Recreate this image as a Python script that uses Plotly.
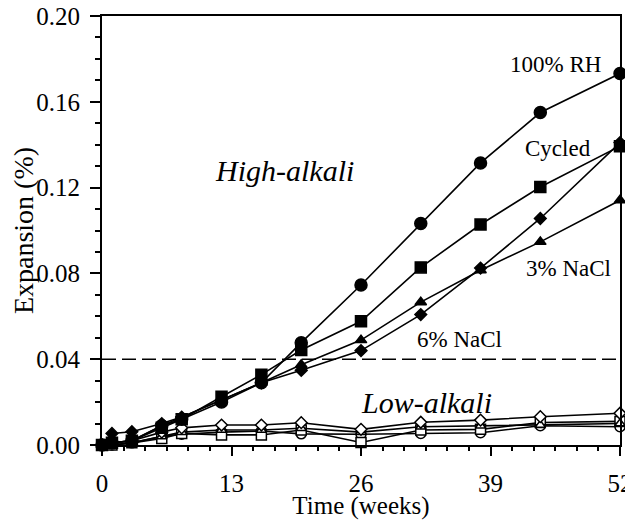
import plotly.graph_objects as go

weeks = [0, 1, 3, 6, 8, 12, 16, 20, 26, 32, 38, 44, 52]

# High-alkali series (filled markers)
rh100_high = [0.000, 0.001, 0.002, 0.009, 0.012, 0.020, 0.029, 0.0477, 0.0746, 0.1033, 0.1315, 0.155, 0.1732]
cycled_high = [0.000, 0.001, 0.002, 0.008, 0.012, 0.0225, 0.0328, 0.0443, 0.0577, 0.0828, 0.1028, 0.1203, 0.1393]
nacl3_high = [0.000, 0.001, 0.002, 0.009, 0.013, 0.021, 0.029, 0.0374, 0.0489, 0.0666, 0.0815, 0.0947, 0.1141]
nacl6_high = [0.000, 0.0054, 0.0062, 0.010, 0.013, 0.021, 0.029, 0.0348, 0.0440, 0.0608, 0.0825, 0.1056, 0.1410]

# Low-alkali series (open markers)
rh100_low = [0.000, 0.000, 0.001, 0.004, 0.005, 0.006, 0.0065, 0.0052, 0.0050, 0.0054, 0.0057, 0.0090, 0.0085]
cycled_low = [0.000, 0.000, 0.001, 0.003, 0.0054, 0.0047, 0.0047, 0.0070, 0.0012, 0.0070, 0.0073, 0.0105, 0.0110]
nacl3_low = [0.000, 0.000, 0.001, 0.004, 0.006, 0.007, 0.007, 0.0078, 0.0060, 0.0085, 0.0090, 0.0093, 0.0100]
nacl6_low = [0.000, 0.001, 0.002, 0.006, 0.008, 0.0093, 0.0093, 0.0104, 0.0073, 0.0106, 0.0116, 0.0132, 0.0148]

threshold = 0.04

x_tick_vals = [0, 13, 26, 39, 52]
y_tick_vals = [0.00, 0.04, 0.08, 0.12, 0.16, 0.20]

FONT = "Times New Roman, Liberation Serif, serif"

fig = go.Figure()

def add(y, symbol, size, fill):
    fig.add_trace(go.Scatter(
        x=weeks, y=y, mode="lines+markers",
        line=dict(color="black", width=1.6),
        marker=dict(symbol=symbol, size=size, color=fill,
                    line=dict(color="black", width=1.5)),
        cliponaxis=False, showlegend=False, hoverinfo="skip"))

add(rh100_low, "circle", 10, "white")
add(cycled_low, "square", 10, "white")
add(nacl3_low, "triangle-up", 9, "white")
add(nacl6_low, "diamond", 9, "white")

add(rh100_high, "circle", 12, "black")
add(cycled_high, "square", 11, "black")
add(nacl3_high, "triangle-up", 10, "black")
add(nacl6_high, "diamond", 9, "black")

fig.add_hline(y=threshold, line=dict(color="black", width=1.6, dash="14px,6px"))

ann_font = dict(family=FONT, size=23, color="black")
fig.add_annotation(x=45.5, y=0.1775, text="100% RH", showarrow=False, font=ann_font)
fig.add_annotation(x=45.8, y=0.138, text="Cycled", showarrow=False, font=ann_font)
fig.add_annotation(x=46.8, y=0.0825, text="3% NaCl", showarrow=False, font=ann_font)
fig.add_annotation(x=35.9, y=0.049, text="6% NaCl", showarrow=False, font=ann_font)
fig.add_annotation(x=18.3, y=0.128, text="<i>High-alkali</i>", showarrow=False,
                   font=dict(family=FONT, size=30, color="black"))
fig.add_annotation(x=32.6, y=0.0200, text="<i>Low-alkali</i>", showarrow=False,
                   font=dict(family=FONT, size=30, color="black"))

# page body has an 8px margin; size/margins compensate so the plot box lands at x 102-620, y 16-445
fig.update_layout(
    width=625, height=512,
    margin=dict(l=94, r=13, t=8, b=75),
    paper_bgcolor="white", plot_bgcolor="white",
    font=dict(family=FONT, color="black"),
)
fig.update_xaxes(
    automargin=False, ticklabeloverflow="allow",
    range=[0, 52], tickvals=x_tick_vals, ticktext=[str(v) for v in x_tick_vals],
    showgrid=False, zeroline=False, showline=True, linecolor="black", linewidth=2, mirror=True,
    ticks="outside", ticklen=9, tickwidth=2, tickcolor="black",
    minor=dict(dtick=13/6, tick0=0, ticks="outside", ticklen=4, tickwidth=1.5, tickcolor="black"),
    tickfont=dict(family=FONT, size=25), ticklabelstandoff=6,
    title=dict(text="Time (weeks)", font=dict(family=FONT, size=25), standoff=0),
)
fig.update_yaxes(
    automargin=False, ticklabeloverflow="allow",
    range=[0, 0.20], tickvals=y_tick_vals, tickformat=".2f",
    showgrid=False, zeroline=False, showline=True, linecolor="black", linewidth=2, mirror=True,
    ticks="outside", ticklen=10, tickwidth=2, tickcolor="black",
    minor=dict(dtick=0.01, ticks="outside", ticklen=5, tickwidth=1.5, tickcolor="black"),
    tickfont=dict(family=FONT, size=25), ticklabelstandoff=5,
    title=dict(text="Expansion (%)", font=dict(family=FONT, size=28), standoff=10),
)

fig.write_html("out.html")
